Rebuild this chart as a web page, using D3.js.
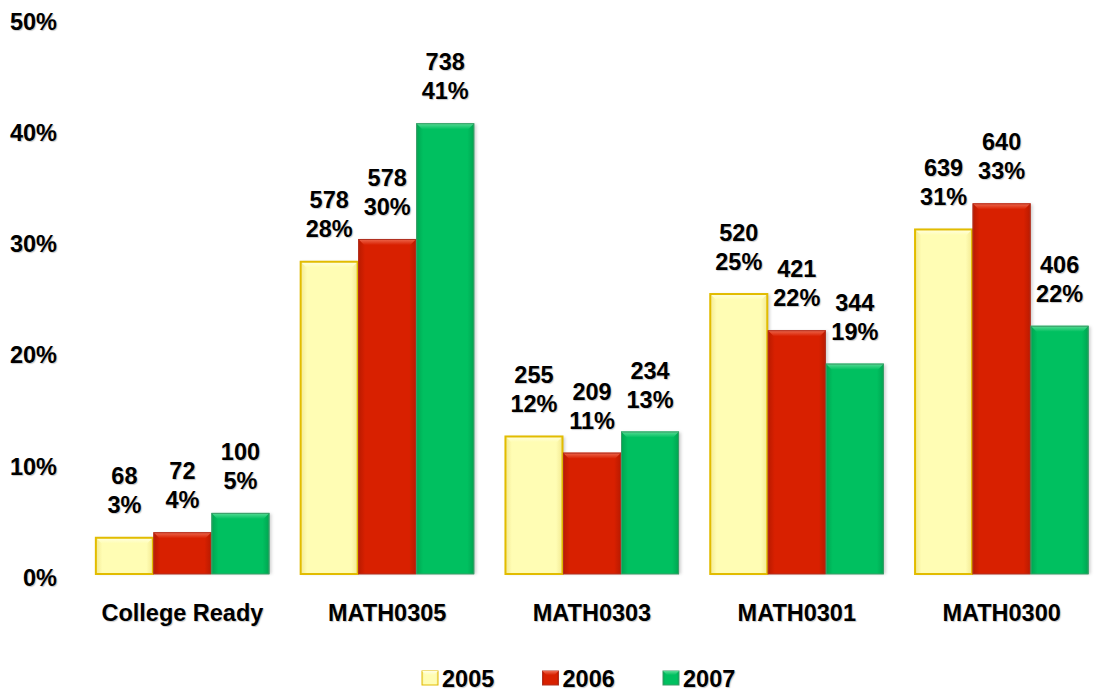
<!DOCTYPE html>
<html>
<head>
<meta charset="utf-8">
<script src="https://cdn.jsdelivr.net/npm/d3@7"></script>
<style>
  body { margin: 0; background: #fff; }
  svg text {
    font-family: "Liberation Sans", Arial, sans-serif;
    font-weight: bold;
    font-size: 23.5px;
    fill: #000;
    text-shadow: 1px 1px 1px rgba(0,0,0,0.22);
  }
</style>
</head>
<body>
<div class="chart-container"></div>
<script>
const WIDTH = 1102;
const HEIGHT = 692;

// data
const categories = ["College Ready", "MATH0305", "MATH0303", "MATH0301", "MATH0300"];
const years = ["2005", "2006", "2007"];
const counts2005 = [68, 578, 255, 520, 639];
const counts2006 = [72, 578, 209, 421, 640];
const counts2007 = [100, 738, 234, 344, 406];
const share2005 = [3.3, 28.1, 12.4, 25.2, 31.0];
const share2006 = [3.75, 30.1, 10.9, 21.9, 33.3];
const share2007 = [5.49, 40.5, 12.8, 18.9, 22.3];
const yTicks = [0, 10, 20, 30, 40, 50];

const yearColors = {
  "2005": { main: "#FFFDB4", light: "#FFFFE6", dark: "#F2E890", edge: "#E2BC00" },
  "2006": { main: "#D82000", light: "#EE6A50", dark: "#B81A00", edge: "#B03020" },
  "2007": { main: "#00C060", light: "#5ADC96", dark: "#00A450", edge: "#3C9C68" },
};

const seriesCounts = { "2005": counts2005, "2006": counts2006, "2007": counts2007 };
const seriesShare = { "2005": share2005, "2006": share2006, "2007": share2007 };

const bars = [];
categories.forEach((c, i) => {
  years.forEach((yr) => {
    bars.push({ cat: c, year: yr, count: seriesCounts[yr][i], share: seriesShare[yr][i] });
  });
});

const svg = d3.select(".chart-container")
  .append("svg")
  .attr("width", WIDTH)
  .attr("height", HEIGHT);

const x = d3.scaleBand()
  .domain(categories)
  .range([80, 1104])
  .paddingInner(0.15)
  .paddingOuter(0.075);

const xSub = d3.scaleBand()
  .domain(years)
  .range([0, x.bandwidth()]);

const y = d3.scaleLinear()
  .domain([0, 50])
  .range([574, 17.5]);

// gradients
const defs = svg.append("defs");
years.forEach((yr) => {
  const col = yearColors[yr];
  const g = defs.append("linearGradient")
    .attr("id", `side-${yr}`)
    .attr("x1", 0).attr("x2", 1).attr("y1", 0).attr("y2", 0);
  g.append("stop").attr("offset", "0%").attr("stop-color", col.dark);
  g.append("stop").attr("offset", "12%").attr("stop-color", col.main);
  g.append("stop").attr("offset", "88%").attr("stop-color", col.main);
  g.append("stop").attr("offset", "100%").attr("stop-color", col.dark);

  const t = defs.append("linearGradient")
    .attr("id", `top-${yr}`)
    .attr("x1", 0).attr("x2", 0).attr("y1", 0).attr("y2", 1);
  t.append("stop").attr("offset", "0%").attr("stop-color", col.light);
  t.append("stop").attr("offset", "100%").attr("stop-color", col.main);
});

const shadow = defs.append("filter").attr("id", "shadow")
  .attr("x", "-10%").attr("y", "-10%").attr("width", "130%").attr("height", "120%");
shadow.append("feGaussianBlur").attr("stdDeviation", 1.5);

// y tick labels
svg.append("g")
  .selectAll("text")
  .data(yTicks)
  .join("text")
  .attr("x", 57)
  .attr("y", (d) => y(d) + 12)
  .attr("text-anchor", "end")
  .text((d) => `${d}%`);

// bars
const bev = 6;
const barGroup = svg.append("g")
  .selectAll("g")
  .data(bars)
  .join("g")
  .attr("transform", (d) => `translate(${x(d.cat) + xSub(d.year)},0)`);

barGroup.append("rect")
  .attr("x", 2)
  .attr("y", (d) => y(d.share) + 1)
  .attr("width", xSub.bandwidth())
  .attr("height", (d) => y(0) - y(d.share) - 1)
  .attr("fill", "rgba(0,0,0,0.18)")
  .attr("filter", "url(#shadow)");

barGroup.append("rect")
  .attr("x", 0)
  .attr("y", (d) => y(d.share))
  .attr("width", xSub.bandwidth())
  .attr("height", (d) => y(0) - y(d.share))
  .attr("fill", (d) => `url(#side-${d.year})`);

barGroup.append("path")
  .attr("d", (d) => {
    const w = xSub.bandwidth();
    const t = y(d.share);
    return `M0,${t}L${w},${t}L${w - bev},${t + bev}L${bev},${t + bev}Z`;
  })
  .attr("fill", (d) => `url(#top-${d.year})`);

barGroup.append("rect")
  .attr("x", 0.5)
  .attr("y", (d) => y(d.share) + 0.5)
  .attr("width", xSub.bandwidth() - 1)
  .attr("height", (d) => y(0) - y(d.share) - 0.5)
  .attr("fill", "none")
  .attr("stroke", (d) => yearColors[d.year].edge)
  .attr("stroke-width", (d) => d.year === "2005" ? 2 : 1);

// data labels
const labels = svg.append("g")
  .selectAll("g")
  .data(bars)
  .join("g")
  .attr("transform", (d) => `translate(${x(d.cat) + xSub(d.year) + xSub.bandwidth() / 2},${y(d.share)})`);

labels.append("text")
  .attr("y", -53)
  .attr("text-anchor", "middle")
  .text((d) => d.count);

labels.append("text")
  .attr("y", -24)
  .attr("text-anchor", "middle")
  .text((d) => `${Math.round(d.share)}%`);

// category labels
svg.append("g")
  .selectAll("text")
  .data(categories)
  .join("text")
  .attr("x", (d) => x(d) + x.bandwidth() / 2)
  .attr("y", 621)
  .attr("text-anchor", "middle")
  .text((d) => d);

// legend
const legend = svg.append("g")
  .selectAll("g")
  .data(years)
  .join("g")
  .attr("transform", (d, i) => `translate(${422 + i * 120.5},671)`);

legend.append("rect")
  .attr("width", 16)
  .attr("height", 14)
  .attr("fill", (d) => `url(#side-${d})`)
  .attr("stroke", (d) => yearColors[d].edge)
  .attr("stroke-width", 1);

legend.append("path")
  .attr("d", "M0,0L16,0L12,4L4,4Z")
  .attr("fill", (d) => `url(#top-${d})`);

legend.append("text")
  .attr("x", 20)
  .attr("y", 16)
  .text((d) => d);
</script>
</body>
</html>
